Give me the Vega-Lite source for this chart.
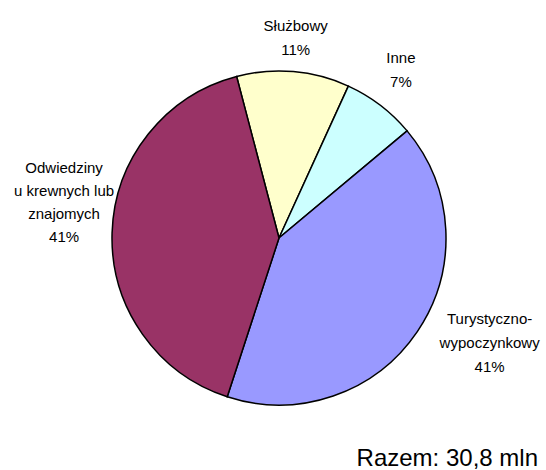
{
  "$schema": "https://vega.github.io/schema/vega-lite/v6.json",
  "width": 534,
  "height": 464,
  "autosize": "none",
  "padding": {"left": 12, "top": 6, "right": 0, "bottom": 0},
  "background": "white",
  "config": {"view": {"stroke": null}},
  "title": {
    "text": "Razem: 30,8 mln",
    "orient": "bottom",
    "anchor": "end",
    "frame": "group",
    "offset": -23,
    "dx": -8,
    "font": "Liberation Sans",
    "fontSize": 24,
    "fontWeight": "normal",
    "color": "black"
  },
  "data": {
    "values": [
      {"k": 1, "kategoria": "Służbowy", "wartosc": 10.9, "etykieta": "Służbowy\n11%"},
      {"k": 2, "kategoria": "Inne", "wartosc": 7.1, "etykieta": "Inne\n7%"},
      {"k": 3, "kategoria": "Turystyczno-wypoczynkowy", "wartosc": 41.1, "etykieta": "Turystyczno-\nwypoczynkowy\n41%"},
      {"k": 4, "kategoria": "Odwiedziny u krewnych lub znajomych", "wartosc": 40.9, "etykieta": "Odwiedziny\nu krewnych lub\nznajomych\n41%"}
    ]
  },
  "encoding": {
    "theta": {"field": "wartosc", "type": "quantitative", "stack": true, "scale": {"range": [-0.2566, 6.0266]}},
    "order": {"field": "k", "type": "quantitative"}
  },
  "layer": [
    {
      "mark": {"type": "arc", "radius": 167, "stroke": "black", "strokeWidth": 1.5},
      "encoding": {
        "color": {
          "field": "kategoria",
          "type": "nominal",
          "legend": null,
          "scale": {
            "domain": ["Służbowy", "Inne", "Turystyczno-wypoczynkowy", "Odwiedziny u krewnych lub znajomych"],
            "range": ["#FFFFCC", "#CCFFFF", "#9999FF", "#993366"]
          }
        }
      }
    },
    {
      "mark": {"type": "text", "radius": 206, "dx": -1, "dy": -7, "font": "Liberation Sans", "fontSize": 15, "lineHeight": 24, "lineBreak": "\n", "align": "center", "baseline": "middle", "color": "black"},
      "encoding": {"text": {"condition": {"test": "datum.k == 1", "field": "etykieta"}, "value": ""}}
    },
    {
      "mark": {"type": "text", "radius": 206, "dx": -3, "dy": -16, "font": "Liberation Sans", "fontSize": 15, "lineHeight": 24, "lineBreak": "\n", "align": "center", "baseline": "middle", "color": "black"},
      "encoding": {"text": {"condition": {"test": "datum.k == 2", "field": "etykieta"}, "value": ""}}
    },
    {
      "mark": {"type": "text", "radius": 206, "dx": 40, "dy": -34, "font": "Liberation Sans", "fontSize": 15, "lineHeight": 24, "lineBreak": "\n", "align": "center", "baseline": "middle", "color": "black"},
      "encoding": {"text": {"condition": {"test": "datum.k == 3", "field": "etykieta"}, "value": ""}}
    },
    {
      "mark": {"type": "text", "radius": 206, "dx": -9, "dy": -64, "font": "Liberation Sans", "fontSize": 15, "lineHeight": 23, "lineBreak": "\n", "align": "center", "baseline": "middle", "color": "black"},
      "encoding": {"text": {"condition": {"test": "datum.k == 4", "field": "etykieta"}, "value": ""}}
    }
  ]
}
